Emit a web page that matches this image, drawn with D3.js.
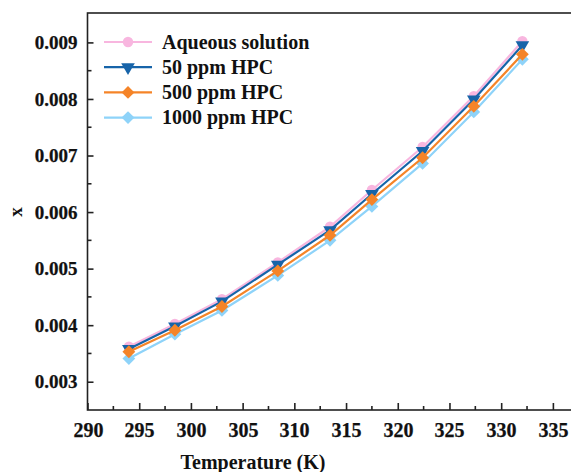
<!DOCTYPE html>
<html>
<head>
<meta charset="utf-8">
<script src="https://cdn.jsdelivr.net/npm/d3@7"></script>
<style>
  body { margin: 0; background: #fff; }
  svg { display: block; }
  svg text { font-family: "Liberation Serif", "Times New Roman", serif; font-weight: bold; }
</style>
</head>
<body>
<div id="chart"></div>
<script>
// Data
const temps = [294.0, 298.45, 303.0, 308.4, 313.45, 317.5, 322.4, 327.35, 332.05];
const aqueous = [0.00362, 0.00402, 0.00446, 0.00511, 0.00574, 0.00639, 0.00715, 0.00805, 0.00902];
const hpc50 = [0.00358, 0.00398, 0.00442, 0.00507, 0.00568, 0.00632, 0.00708, 0.00799, 0.00895];
const hpc500 = [0.00353, 0.00391, 0.00433, 0.00496, 0.00559, 0.00622, 0.00696, 0.00787, 0.00879];
const hpc1000 = [0.00341, 0.00384, 0.00426, 0.00488, 0.00550, 0.00610, 0.00686, 0.00777, 0.00870];

const xTicks = [290, 295, 300, 305, 310, 315, 320, 325, 330, 335];
const yTicks = [0.003, 0.004, 0.005, 0.006, 0.007, 0.008, 0.009];

// diamonds are squares turned by 45 degrees
const series = [
    { name: "Aqueous solution", values: aqueous, color: "#F8B6DF", symbol: d3.symbolCircle, size: 85, rot: 0 },
    { name: "50 ppm HPC", values: hpc50, color: "#1764A9", symbol: d3.symbolTriangle, size: 80, rot: 180 },
    { name: "1000 ppm HPC", values: hpc1000, color: "#8ED3F9", symbol: d3.symbolSquare, size: 82, rot: 45 },
    { name: "500 ppm HPC", values: hpc500, color: "#F58428", symbol: d3.symbolSquare, size: 82, rot: 45 }
];
const legendOrder = ["Aqueous solution", "50 ppm HPC", "500 ppm HPC", "1000 ppm HPC"];

const width = 571, height = 472;
const margin = { top: 13, left: 87.5, bottom: 62 };
const plotRight = 604.6;  // right frame lies outside the visible window

const svg = d3.select("#chart").append("svg")
    .attr("width", width)
    .attr("height", height);

const x = d3.scaleLinear().domain([290, 340]).range([margin.left, plotRight]);
const y = d3.scaleLinear().domain([0.0025, 0.00952]).range([height - margin.bottom, margin.top]);

// Minor ticks
const xMinor = d3.range(292.5, 340, 5);
const yMinor = d3.range(0.0025, 0.0095, 0.001).filter(v => v > 0.0026);

// Frame
svg.append("rect")
    .attr("x", margin.left).attr("y", margin.top)
    .attr("width", plotRight - margin.left)
    .attr("height", y.range()[0] - margin.top)
    .attr("fill", "none").attr("stroke", "#222").attr("stroke-width", 1.6);

function styleTicks(g, size) {
    g.attr("font-family", null).attr("font-size", null);
    g.selectAll(".tick line").attr("stroke", "#222").attr("stroke-width", 1.6);
    g.select(".domain").remove();
    g.selectAll(".tick text")
        .style("font-size", size)
        .style("font-weight", "bold")
        .attr("fill", "#111")
        .attr("stroke", "#111")
        .attr("stroke-width", 0.25);
}

// X axis
const xAxisG = svg.append("g").attr("transform", `translate(0,${y.range()[0]})`);
xAxisG.call(d3.axisBottom(x).tickValues(xTicks).tickSize(-7).tickPadding(13).tickFormat(d3.format("d")));
styleTicks(xAxisG, "20px");
xAxisG.selectAll(".tick text").attr("x", d => Math.round(x(d)) - x(d));
xAxisG.selectAll(".minor").data(xMinor).join("line")
    .attr("class", "minor")
    .attr("x1", d => x(d)).attr("x2", d => x(d))
    .attr("y1", 0).attr("y2", -4)
    .attr("stroke", "#222").attr("stroke-width", 1.6);

// Y axis
const yAxisG = svg.append("g").attr("transform", `translate(${margin.left},0)`);
yAxisG.call(d3.axisLeft(y).tickValues(yTicks).tickSize(-6).tickPadding(10).tickFormat(d3.format(".3f")));
styleTicks(yAxisG, "19px");
yAxisG.selectAll(".minor").data(yMinor).join("line")
    .attr("class", "minor")
    .attr("x1", 0).attr("x2", 4)
    .attr("y1", d => y(d)).attr("y2", d => y(d))
    .attr("stroke", "#222").attr("stroke-width", 1.6);

// Axis titles
svg.append("text")
    .attr("x", 253)
    .attr("y", 469)
    .attr("text-anchor", "middle")
    .style("font-size", "20px")
    .attr("fill", "#111")
    .text("Temperature (K)");

svg.append("text")
    .attr("transform", `translate(22,${y(0.006)})rotate(-90)`)
    .attr("text-anchor", "middle")
    .style("font-size", "19px")
    .attr("fill", "#111")
    .text("x");

// Lines and markers
const line = d3.line().x(d => x(d[0])).y(d => y(d[1]));

series.forEach(s => {
    const pts = temps.map((t, i) => [t, s.values[i]]);
    svg.append("path")
        .datum(pts)
        .attr("d", line)
        .attr("fill", "none")
        .attr("stroke", s.color)
        .attr("stroke-width", 2.2);
    svg.append("g").selectAll("path").data(pts).join("path")
        .attr("d", d3.symbol().type(s.symbol).size(s.size))
        .attr("transform", d => `translate(${x(d[0])},${y(d[1])})rotate(${s.rot})`)
        .attr("fill", s.color);
});

// Legend
const legend = svg.append("g").attr("transform", "translate(104,42)");
legendOrder.forEach((name, i) => {
    const s = series.find(d => d.name === name);
    const row = legend.append("g").attr("transform", `translate(0,${i * 25.2})`);
    row.append("line")
        .attr("x1", 0).attr("x2", 48)
        .attr("stroke", s.color).attr("stroke-width", 2.2);
    row.append("path")
        .attr("d", d3.symbol().type(s.symbol).size(s.size))
        .attr("transform", `translate(24,0)rotate(${s.rot})`)
        .attr("fill", s.color);
    row.append("text")
        .attr("x", 58)
        .attr("y", 6.5)
        .style("font-size", "20px")
        .attr("fill", "#111")
        .text(name);
});
</script>
</body>
</html>
